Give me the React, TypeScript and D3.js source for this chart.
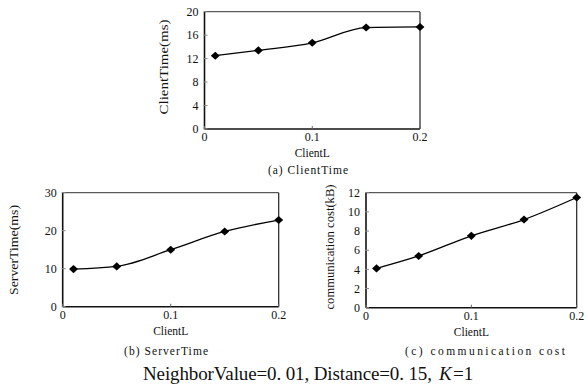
import React from "react";
import * as d3 from "d3";

const clientL = [0.01, 0.05, 0.1, 0.15, 0.2];
const clientTime = [12.5, 13.4, 14.7, 17.3, 17.4];
const serverTime = [9.9, 10.6, 15.0, 19.8, 22.8];
const commCost = [4.1, 5.4, 7.5, 9.2, 11.5];
const xTicks = [0, 0.1, 0.2];
const xTickLabels = ["0", "0.1", "0.2"];
const ticksA = [0, 4, 8, 12, 16, 20];
const ticksB = [0, 10, 20, 30];
const ticksC = [0, 2, 4, 6, 8, 10, 12];

const FONT = "'Liberation Serif', 'Times New Roman', 'DejaVu Serif', serif";

type PanelProps = {
  left: number; right: number; top: number; bottom: number;
  values: number[]; yMax: number; yTicks: number[];
  yLabel: string; yLabelLen: number; yLabelX: number; yLabelY: number;
  caption: string; captionX: number; captionY: number; captionLen: number;
};

function Panel(p: PanelProps) {
  const x = d3.scaleLinear().domain([0, 0.2]).range([p.left, p.right]);
  const y = d3.scaleLinear().domain([0, p.yMax]).range([p.bottom, p.top]);
  const line = d3.line<number>()
    .x((_, i) => x(clientL[i]))
    .y((d) => y(d))
    .curve(d3.curveMonotoneX);
  const sym = d3.symbol().type(d3.symbolDiamond2).size(42);
  return (
    <g style={{ fontFamily: FONT }} fill="#111">
      <line x1={p.left} x2={p.right} y1={p.top} y2={p.top} stroke="#333" strokeWidth={1} />
      <line x1={p.right} x2={p.right} y1={p.top} y2={p.bottom} stroke="#222" strokeWidth={1.2} />
      <line x1={p.left} x2={p.left} y1={p.top} y2={p.bottom} stroke="#111" strokeWidth={1.6} />
      <line x1={p.left} x2={p.right} y1={p.bottom} y2={p.bottom} stroke="#111" strokeWidth={1.6} />
      {p.yTicks.map((t) => (
        <g key={"y" + t}>
          <line x1={p.left - 1} x2={p.left + 3} y1={y(t)} y2={y(t)} stroke="#888" strokeWidth={1} />
          <text x={p.left - 6} y={y(t)} dy="0.35em" textAnchor="end" fontSize={12}>{t}</text>
        </g>
      ))}
      {xTicks.map((t, i) => (
        <g key={"x" + t}>
          <line x1={x(t)} x2={x(t)} y1={p.bottom} y2={p.bottom - 3} stroke="#666" strokeWidth={1} />
          <text x={x(t)} y={p.bottom + 12} textAnchor="middle" fontSize={12}>{xTickLabels[i]}</text>
        </g>
      ))}
      <path d={line(p.values) || ""} fill="none" stroke="#000" strokeWidth={1.3} />
      {p.values.map((v, i) => (
        <path key={i} d={sym() || ""} transform={`translate(${x(clientL[i])},${y(v)}) scale(1.1,1)`} fill="#000" />
      ))}
      <text x={(p.left + p.right) / 2} y={p.bottom + 28} textAnchor="middle" fontSize={11.5}>ClientL</text>
      <text transform={`translate(${p.yLabelX},${p.yLabelY}) rotate(-90)`} textAnchor="middle" fontSize={12}
        textLength={p.yLabelLen} lengthAdjust="spacingAndGlyphs">{p.yLabel}</text>
      <text x={p.captionX} y={p.captionY} textAnchor="middle" fontSize={11.5}
        textLength={p.captionLen} lengthAdjust="spacing">{p.caption}</text>
    </g>
  );
}

export default function App() {
  return (
    <svg width={588} height={389} style={{ position: "absolute", left: 0, top: 0, background: "#fff" }}>
      <rect width={588} height={389} fill="#fff" />
      <Panel left={204.5} right={420} top={11.7} bottom={129} values={clientTime} yMax={20} yTicks={ticksA}
        yLabel="ClientTime(ms)" yLabelLen={95} yLabelX={168} yLabelY={67}
        caption="(a) ClientTime" captionX={308} captionY={174} captionLen={80} />
      <Panel left={62.7} right={278.7} top={192.7} bottom={306.7} values={serverTime} yMax={30} yTicks={ticksB}
        yLabel="ServerTime(ms)" yLabelLen={90} yLabelX={18} yLabelY={250}
        caption="(b) ServerTime" captionX={166} captionY={355} captionLen={84} />
      <Panel left={366} right={576.7} top={192.7} bottom={307.7} values={commCost} yMax={12} yTicks={ticksC}
        yLabel="communication  cost(kB)" yLabelLen={125} yLabelX={334} yLabelY={247}
        caption="(c)  communication  cost" captionX={485} captionY={355} captionLen={160} />
      <g style={{ fontFamily: FONT }} fill="#111" fontSize={19}>
        <text x={143} y={380} textLength={289} lengthAdjust="spacing">NeighborValue=0. 01, Distance=0. 15,</text>
        <text x={439} y={380} fontStyle="italic">K</text>
        <text x={453} y={380}>=1</text>
      </g>
    </svg>
  );
}
